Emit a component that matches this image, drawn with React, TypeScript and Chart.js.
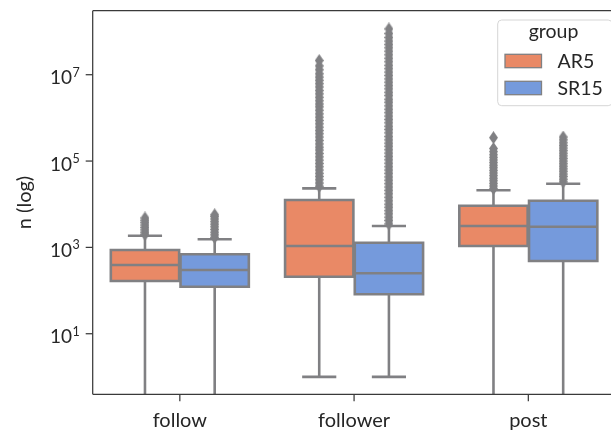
import React, { useEffect, useRef } from 'react';
import { Chart, registerables } from 'chart.js';

Chart.register(...registerables);

const categories = ['follow', 'follower', 'post'];
const groups = ['AR5', 'SR15'];
const groupColors = ['#E98966', '#759ADC'];
const lineGray = '#808083';

// [lowerWhisker, q1, median, q3, upperWhisker] per category
const ar5Stats = [
  [0, 166, 391, 869, 1866],
  [1, 209, 1077, 12500, 23350],
  [0, 1077, 3126, 9230, 20990],
];
const sr15Stats = [
  [0, 123, 299, 692, 1538],
  [1, 82, 251, 1283, 3126],
  [0, 483, 3013, 12060, 29850],
];

const ar5Outliers = [
  [2000, 2250, 2550, 2900, 3300, 3750, 4250, 4800],
  [26000, 31000, 37000, 44000, 52000, 62000, 74000, 88000, 105000, 125000, 150000, 180000, 210000, 250000, 300000, 360000, 430000, 510000, 610000, 730000, 870000, 1040000, 1240000, 1500000, 1800000, 2100000, 2500000, 3000000, 3600000, 4300000, 5200000, 6200000, 7400000, 8800000, 10500000, 13000000, 16000000, 21300000],
  [23000, 26500, 30500, 35000, 40000, 46000, 53000, 61000, 70000, 80000, 92000, 106000, 122000, 140000, 165000, 195000, 348000],
];
const sr15Outliers = [
  [1700, 1950, 2250, 2600, 3000, 3450, 3950, 4550, 5200, 5700],
  [3500, 4200, 5000, 6000, 7100, 8500, 10000, 12000, 14500, 17500, 21000, 25000, 30000, 36000, 43000, 52000, 62000, 74000, 89000, 107000, 128000, 153000, 183000, 220000, 260000, 310000, 370000, 450000, 540000, 640000, 770000, 920000, 1100000, 1320000, 1580000, 1900000, 2300000, 2700000, 3300000, 3900000, 4700000, 5600000, 6700000, 8000000, 9600000, 11500000, 13800000, 16500000, 20000000, 24000000, 29000000, 35000000, 42000000, 50000000, 60000000, 73000000, 90000000, 115000000],
  [33000, 38000, 44000, 50000, 58000, 66000, 76000, 87000, 100000, 115000, 132000, 152000, 175000, 200000, 230000, 265000, 310000, 360000],
];

const yTickExponents = [1, 3, 5, 7];
const yMin = 0.3954;
const yMax = 3.04e8;
const yLabel = 'n (log)';
const legendTitle = 'group';

const FONT = 'Lato, "Open Sans", sans-serif';

function makeDiamond(color: string) {
  const c = document.createElement('canvas');
  c.width = 9;
  c.height = 13;
  const g = c.getContext('2d')!;
  g.fillStyle = color;
  g.beginPath();
  g.moveTo(4.5, 0);
  g.lineTo(9, 6.5);
  g.lineTo(4.5, 13);
  g.lineTo(0, 6.5);
  g.closePath();
  g.fill();
  return c;
}

const allStats = [ar5Stats, sr15Stats];
const allOutliers = [ar5Outliers, sr15Outliers];
const hueOffset = [-0.2, 0.2];
const halfBox = 0.196;
const halfCap = 0.098;

const boxPlugin = {
  id: 'boxes',
  beforeDatasetsDraw(chart: any) {
    const { ctx, chartArea } = chart;
    const x = chart.scales.x;
    const y = chart.scales.y;
    const yp = (v: number) => (v <= 0 ? chartArea.bottom + 20 : y.getPixelForValue(v));
    ctx.save();
    ctx.beginPath();
    ctx.rect(chartArea.left, chartArea.top, chartArea.right - chartArea.left, chartArea.bottom - chartArea.top);
    ctx.clip();
    ctx.lineWidth = 2.6;
    ctx.strokeStyle = lineGray;
    ctx.lineCap = 'butt';
    allStats.forEach((stats, g) => {
      stats.forEach((s, i) => {
        const c = i + hueOffset[g];
        const xc = x.getPixelForValue(c);
        const xl = x.getPixelForValue(c - halfBox);
        const xr = x.getPixelForValue(c + halfBox);
        const cl = x.getPixelForValue(c - halfCap);
        const cr = x.getPixelForValue(c + halfCap);
        const [lw, q1, med, q3, uw] = s;
        // whiskers
        ctx.beginPath();
        ctx.moveTo(xc, yp(q3));
        ctx.lineTo(xc, yp(uw));
        ctx.moveTo(xc, yp(q1));
        ctx.lineTo(xc, yp(lw));
        ctx.stroke();
        // caps
        ctx.beginPath();
        ctx.moveTo(cl, yp(uw));
        ctx.lineTo(cr, yp(uw));
        ctx.moveTo(cl, yp(lw));
        ctx.lineTo(cr, yp(lw));
        ctx.stroke();
        // box
        ctx.fillStyle = groupColors[g];
        ctx.beginPath();
        ctx.rect(xl, yp(q3), xr - xl, yp(q1) - yp(q3));
        ctx.fill();
        ctx.stroke();
        // median
        ctx.beginPath();
        ctx.moveTo(xl, yp(med));
        ctx.lineTo(xr, yp(med));
        ctx.stroke();
      });
    });
    ctx.restore();
  },
  afterDraw(chart: any) {
    const { ctx, chartArea } = chart;
    const x = chart.scales.x;
    const y = chart.scales.y;
    ctx.save();
    // spines
    ctx.strokeStyle = '#3a3a3a';
    ctx.lineWidth = 1.25;
    ctx.beginPath();
    ctx.moveTo(chartArea.left, chartArea.top);
    ctx.lineTo(chartArea.left, chartArea.bottom);
    ctx.moveTo(chartArea.left, chartArea.top);
    ctx.lineTo(chart.width + 5, chartArea.top);
    ctx.moveTo(chartArea.left, chartArea.bottom);
    ctx.lineTo(chart.width + 5, chartArea.bottom);
    ctx.stroke();
    // y ticks
    ctx.fillStyle = '#262626';
    yTickExponents.forEach((e) => {
      const py = y.getPixelForValue(Math.pow(10, e));
      ctx.beginPath();
      ctx.moveTo(chartArea.left - 7, py);
      ctx.lineTo(chartArea.left, py);
      ctx.stroke();
      const rx = chartArea.left - 13;
      ctx.textAlign = 'right';
      ctx.textBaseline = 'alphabetic';
      ctx.font = `12.5px ${FONT}`;
      const ex = String(e);
      const ew = ctx.measureText(ex).width;
      ctx.fillText(ex, rx, py + 2);
      ctx.font = `19px ${FONT}`;
      ctx.fillText('10', rx - ew - 0.5, py + 9.5);
    });
    // x ticks
    categories.forEach((cat, i) => {
      const px = x.getPixelForValue(i);
      ctx.beginPath();
      ctx.moveTo(px, chartArea.bottom);
      ctx.lineTo(px, chartArea.bottom + 7);
      ctx.stroke();
      ctx.font = `20px ${FONT}`;
      ctx.textAlign = 'center';
      ctx.textBaseline = 'alphabetic';
      ctx.fillText(cat, px, 427);
    });
    // y label
    ctx.save();
    ctx.translate(30.5, (chartArea.top + chartArea.bottom) / 2);
    ctx.rotate(-Math.PI / 2);
    ctx.font = `20px ${FONT}`;
    ctx.textAlign = 'center';
    ctx.textBaseline = 'alphabetic';
    ctx.fillText(yLabel, 0, 0);
    ctx.restore();
    // legend
    const lx = 497.7;
    const ly = 20;
    const lwid = 114.5;
    const lh = 85.7;
    const r = 4;
    ctx.beginPath();
    ctx.moveTo(lx + r, ly);
    ctx.lineTo(lx + lwid - r, ly);
    ctx.arcTo(lx + lwid, ly, lx + lwid, ly + r, r);
    ctx.lineTo(lx + lwid, ly + lh - r);
    ctx.arcTo(lx + lwid, ly + lh, lx + lwid - r, ly + lh, r);
    ctx.lineTo(lx + r, ly + lh);
    ctx.arcTo(lx, ly + lh, lx, ly + lh - r, r);
    ctx.lineTo(lx, ly + r);
    ctx.arcTo(lx, ly, lx + r, ly, r);
    ctx.closePath();
    ctx.fillStyle = 'rgba(255,255,255,0.8)';
    ctx.fill();
    ctx.strokeStyle = '#d6d6d6';
    ctx.lineWidth = 1;
    ctx.stroke();
    ctx.fillStyle = '#262626';
    ctx.font = `19.5px ${FONT}`;
    ctx.textAlign = 'center';
    ctx.fillText(legendTitle, 553.5, 37.5);
    groups.forEach((gName, g) => {
      const py = 54.3 + g * 27;
      ctx.fillStyle = groupColors[g];
      ctx.fillRect(505, py, 36.5, 13.4);
      ctx.strokeStyle = lineGray;
      ctx.lineWidth = 1.3;
      ctx.strokeRect(505, py, 36.5, 13.4);
      ctx.fillStyle = '#262626';
      ctx.font = `19.5px ${FONT}`;
      ctx.textAlign = 'left';
      ctx.fillText(gName, 557.5, py + 13.4);
    });
    ctx.restore();
  },
};

export default function App() {
  const ref = useRef<HTMLCanvasElement>(null);
  useEffect(() => {
    if (!ref.current) return;
    const diamond = makeDiamond(lineGray);
    const datasets: any[] = [];
    allOutliers.forEach((outs, g) => {
      outs.forEach((vals, i) => {
        datasets.push({
          label: `${groups[g]} ${categories[i]}`,
          data: vals.map((v) => ({ x: i + hueOffset[g], y: v })),
          pointStyle: diamond,
          pointRadius: 5,
          backgroundColor: lineGray,
          borderColor: lineGray,
        });
      });
    });
    const chart = new Chart(ref.current, {
      type: 'scatter',
      data: { datasets },
      plugins: [boxPlugin],
      options: {
        animation: false,
        responsive: false,
        maintainAspectRatio: false,
        layout: { padding: { left: 92.7, top: 10.7, right: 0, bottom: 35.7 } },
        scales: {
          x: { type: 'linear', min: -0.5, max: 2.44, display: false },
          y: { type: 'logarithmic', min: yMin, max: yMax, display: false },
        },
        plugins: { legend: { display: false }, tooltip: { enabled: false } },
      },
    } as any);
    return () => chart.destroy();
  }, []);
  return (
    <div style={{ position: 'absolute', left: 0, top: 0, width: 611, height: 430, overflow: 'hidden', background: '#fff' }}>
      <canvas ref={ref} width={611} height={430} style={{ display: 'block' }} />
    </div>
  );
}
